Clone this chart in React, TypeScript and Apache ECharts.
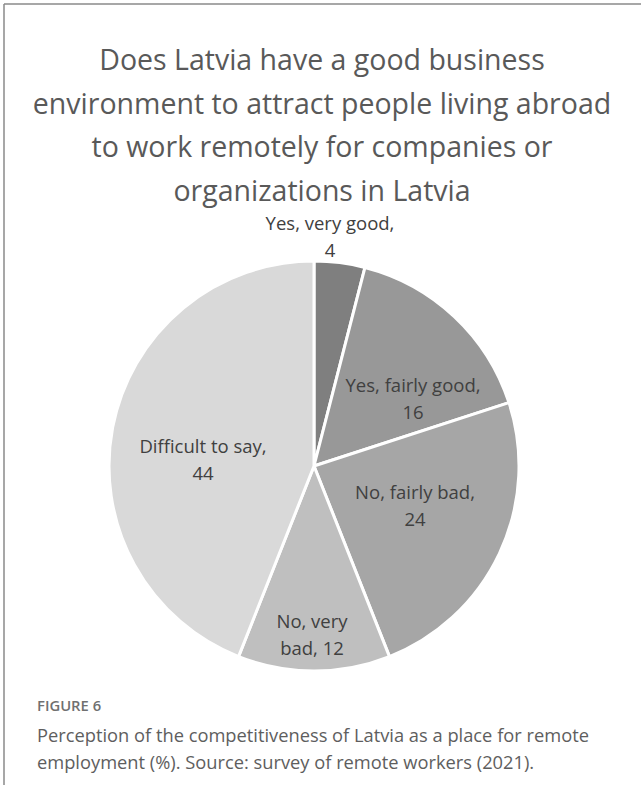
import React, { useEffect, useRef } from "react";
import * as echarts from "echarts";

const categories = ["Yes, very good", "Yes, fairly good", "No, fairly bad", "No, very bad", "Difficult to say"];
const values = [4, 16, 24, 12, 44];
const colors = ["#7f7f7f", "#989898", "#a6a6a6", "#bfbfbf", "#d9d9d9"];
const labelTexts = ["Yes, very good,\n4", "Yes, fairly good,\n16", "No, fairly bad,\n24", "No, very\nbad, 12", "Difficult to say,\n44"];
const labelPos: [number, number][] = [[330, 236], [413, 398], [415, 505], [312, 634], [203, 459]];

const titleLines = [
  "Does Latvia have a good business",
  "environment to attract people living abroad",
  "to work remotely for companies or",
  "organizations in Latvia",
];

export default function App() {
  const ref = useRef<HTMLDivElement>(null);
  useEffect(() => {
    document.body.style.margin = "0";
    const chart = echarts.init(ref.current!, null, { renderer: "svg" });
    chart.setOption({
      animation: false,
      backgroundColor: "#ffffff",
      graphic: [
        { type: "line", shape: { x1: 4, y1: 4, x2: 641, y2: 4 }, style: { stroke: "#8a8a8a", lineWidth: 1.5 } },
        { type: "line", shape: { x1: 4, y1: 4, x2: 4, y2: 785 }, style: { stroke: "#8a8a8a", lineWidth: 1.5 } },
        {
          type: "text", x: 322, y: 37,
          style: {
            text: titleLines.join("\n"), fontFamily: "Open Sans", fontSize: 28.5, fill: "#595959",
            lineHeight: 43.7, align: "center", verticalAlign: "top",
          },
        },
        {
          type: "text", left: 37, top: 697,
          style: { text: "FIGURE 6", fontFamily: "Open Sans", fontSize: 14.8, fontWeight: 600, fill: "#707070" },
        },
        {
          type: "text", left: 37, top: 721,
          style: {
            text: "Perception of the competitiveness of Latvia as a place for remote\nemployment (%). Source: survey of remote workers (2021).",
            fontFamily: "Open Sans", fontSize: 18.3, fill: "#5e5e5e", lineHeight: 27,
          },
        },
      ],
      series: [
        {
          type: "pie",
          center: [314, 466],
          radius: [0, 205],
          startAngle: 90,
          clockwise: true,
          silent: true,
          itemStyle: { borderColor: "#ffffff", borderWidth: 3 },
          label: {
            show: true,
            position: "inside",
            fontFamily: "Open Sans",
            fontSize: 18.5,
            color: "#404040",
            lineHeight: 27,
            align: "center",
            formatter: (p: any) => labelTexts[p.dataIndex],
          },
          labelLine: { show: false },
          labelLayout: (p: any) => ({ x: labelPos[p.dataIndex][0], y: labelPos[p.dataIndex][1], align: "center", verticalAlign: "middle" }),
          data: categories.map((c, i) => ({ name: c, value: values[i], itemStyle: { color: colors[i] } })),
        },
      ],
    });
    return () => chart.dispose();
  }, []);
  return <div ref={ref} style={{ width: 641, height: 785 }} />;
}
